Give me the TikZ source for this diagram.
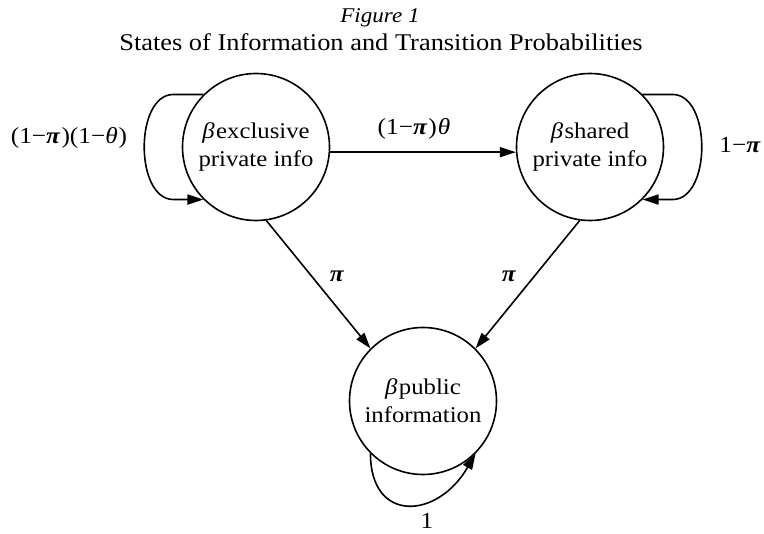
\documentclass[tikz,border=0pt]{standalone}
\usepackage{fontspec}
\setmainfont{Liberation Serif}[FakeStretch=1.1]
\usetikzlibrary{arrows.meta}
\newcommand\mypi{\textbf{\textit{π}}}
\newcommand\mytheta{\textit{θ}}
\newcommand\mybeta{\textit{β}\kern1.5pt}
\begin{document}
\begin{tikzpicture}[x=1pt,y=-1pt,
  state/.style={circle,draw,line width=1.6pt,minimum size=147pt,inner sep=0pt,align=center,font=\fontsize{22.5}{28}\selectfont},
  arr/.style={line width=1.6pt,-{Triangle[length=16pt,width=10pt]}},
  lbl/.style={inner sep=0pt,font=\fontsize{23}{28}\selectfont}]
\path[use as bounding box] (0,0) rectangle (764,534);

\node[font=\fontsize{21}{24}\selectfont\itshape] (title) at (380,18) {Figure 1};
\node[font=\fontsize{24}{28}\selectfont] (subtitle) at (381,42) {States of Information and Transition Probabilities};

\node[state] (A) at (256,147) {\mybeta exclusive\\private info};
\node[state] (B) at (590,147) {\mybeta shared\\private info};
\node[state] (C) at (423,401) {\mybeta public\\information};

\draw[arr] (A.-4) -- (B.184);
\draw[arr] (A.-82) -- (C.135);
\draw[arr] (B.-98) -- (C.45);

\draw[arr] (A.135) -- ++(-30,0) .. controls +(-39,0) and +(-39,0) .. ([xshift=-30pt]A.-135) -- (A.-135);
\draw[arr] (B.45) -- ++(30,0) .. controls +(39,0) and +(39,0) .. ([xshift=30pt]B.-45) -- (B.-45);
\draw[arr] (C.-135) .. controls +(0,70) and +(-38,66) .. (C.-45);

\node[lbl] (lAB) at (414,129) {(1−\mypi\kern1pt)\kern1pt\mytheta};
\node[lbl] (lAC) at (337,276) {\mypi};
\node[lbl] (lBC) at (509,276) {\mypi};
\node[lbl] (lAA) at (69,138) {(1−\mypi\kern1pt)(1−\mytheta\kern1pt)};
\node[lbl] (lBB) at (740,145) {1−\mypi};
\node[lbl,anchor=base] (lCC) at (427,529) {1};
\end{tikzpicture}
\end{document}
